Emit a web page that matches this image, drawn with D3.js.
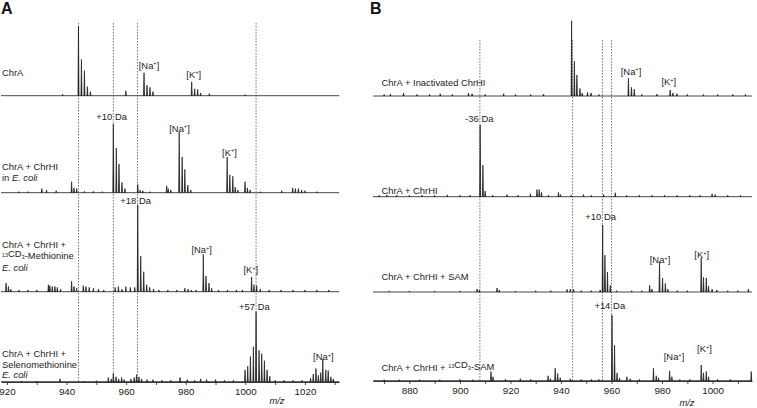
<!DOCTYPE html>
<html><head><meta charset="utf-8">
<script src="https://cdnjs.cloudflare.com/ajax/libs/d3/7.8.5/d3.min.js"></script>
<style>
html,body{margin:0;padding:0;background:#fff;}
svg{display:block;font-family:"Liberation Sans",Arial,sans-serif;}
</style></head>
<body><svg id="c" width="757" height="408"></svg>
<script>
// ---------------- DATA ----------------
const domainA = [918, 1031.5];
const domainB = [865.6, 1015.6];
const ticksA = [920, 930, 940, 950, 960, 970, 980, 990, 1000, 1010, 1020, 1030];
const ticksB = [870, 880, 890, 900, 910, 920, 930, 940, 950, 960, 970, 980, 990, 1000, 1010];
const labelTicks = [880, 900, 920, 940, 960, 980, 1000, 1020];
const dashedA = [944, 955.7, 963.8, 1003.6];
const dashedB = [907.9, 944.6, 956.4, 960];

// peaks: [m/z, relative intensity %]
const peaksA1 = [[938.7,2],[944,100],[945,52],[946,36],[947,13],[948,6],[959.9,7],[966,33],[967,15],[968,12],[969,6],
  [982,20],[983,10],[984,9],[985,4],[987.9,3],[999.9,1.5]];
const peaksA2 = [[924,1.5],[927,1.5],[931.7,6],[933.3,4],[936.5,3],[941.7,16],[942.5,7],[943.4,6],[946,2],[949,2],[952,1.5],
  [955.7,100],[956.7,65],[957.6,42],[958.6,15],[959.6,6],[963.9,12],[964.7,4],[965.6,3],[968,1.5],
  [973.6,10],[974.1,6],[975,4],[977.8,89],[978.8,52],[979.7,34],[980.7,11],[981.7,4],
  [993.9,52],[994.8,26],[995.8,24],[996.6,8],[997.5,4],[999.9,16],[1000.7,7],[1001.6,4],[1005,1.5],
  [1012.2,3],[1015.9,7],[1016.8,6],[1017.8,6],[1018.9,4],[1020,3],[1024,1.5]];
const peaksA3 = [[919.7,10],[920.5,6],[921.3,3],[924,2],[927,2],[930,2],[933.9,8],[934.4,7],[935.2,6],[936.1,6],[936.9,5],[938,3],
  [941.7,12],[942.5,6],[943.4,4],[945.6,7],[946.5,6],[947.6,5],[949,4],[950.7,3],[952.5,2],
  [956.3,5],[957.4,6],[958.6,3],[959.9,6],[961.4,5],[962.9,5],[963.9,100],[964.9,41],[965.9,23],[966.9,8],[967.9,5],
  [969.2,3],[971,2],[974,2],[977,2],[979.7,4],[980.8,3],[981.9,2],[983.5,2],
  [985.9,43],[986.8,18],[987.8,10],[988.7,4],[991,2],[994,2],[997,2],[999,2],
  [1002.1,17],[1002.9,8],[1003.8,7],[1005,3],[1008,2],[1012,2],[1016,2],[1020,2],[1024,2],[1028,2]];
const peaksA4 = [[925,1],[930,1],[937.8,4],[946,1],[950,1.5],[954,6],[955,4],[955.7,12],[956.6,7],[957.5,4],[958.5,6],[959.3,3],
  [961.6,4],[962.7,6],[963.5,10],[964.3,7],[965.2,4],[967,3],[969,3],[972,2],[975,2],[978.1,6],[980.5,3],[983,2],[985,4],
  [987,3],[990,3],[993,2],[996,2],
  [999.9,17],[1000.8,22],[1001.7,36],[1002.7,50],[1003.6,100],[1004.6,45],[1005.5,40],[1006.4,30],[1007.3,17],[1008.2,8],
  [1010,2],[1013,2],[1016,2],[1019,2],
  [1021.9,5],[1022.8,11],[1023.7,19],[1024.5,9],[1025.3,13],[1026,32],[1027,17],[1027.8,16],[1028.7,7],[1029.5,4]];

const peaksB1 = [[870,2],[872.5,2.5],[877.7,4],[883,2],[888,2],[892.2,3],[897,2],[903.4,4],[904.8,3],[910,2],[917.3,3],[922,2],[928,2],[933.1,2.5],
  [944.2,100],[945.3,46],[946.3,28],[947.5,10],[948.4,4],[950.5,5],[951.9,4],[955,2],
  [966.7,23.5],[967.9,11.5],[969,9],[972,2],[978,2.5],[983.2,8],[984.3,4],[985.9,3],[990,2],[996.4,2],[1002,2],[1008,2],[1013,2]];
const peaksB2 = [[868,2],[871.1,2.5],[875,2],[880,2],[885,2],[890,2],[895,2.5],[900,2],[904,2],
  [908,100],[909.1,44],[910,8],[913,2],[918.6,3],[923,2],[927.9,4],[930.5,10],[931.4,10],[932.3,6],[935,2],[939,6],[939.8,3],
  [944,2],[948.9,3],[952,2],[956.9,3],[961.5,5.5],[966,2],[971,2],[976,2],[981,2],[986,2],[991,2],[995,2],[999.8,4],[1001,3],[1006,2],[1011,2]];
const peaksB3 = [[872,1.5],[880,1.5],[890,1.5],[900,1.5],[906.8,4.5],[907.7,3],[914.7,6],[915.6,3],[922,1.5],[930,2],[936,2],
  [942.4,4],[943.7,4.5],[945,4],[948,2],[952,2],[955.5,3],
  [956.5,100],[957.4,55],[958.4,30],[959.5,10],[962,2],[968,2],[972,2],
  [975.1,10],[976,4.5],[979,45],[980.2,21],[981.3,13],[982.3,4.5],[986,2],[990,2],
  [995.5,51],[996.4,22],[997.5,21],[998.4,9],[999.8,4.5],[1001.7,3],[1006,2],[1010,2],[1014.2,4.5]];
const peaksB4 = [[870,1.5],[876,1.5],[884,1.5],[892,1.5],[900,2],[905,1.5],[912.3,14],[913.1,6],[918,2],[923.9,3],[928,2],
  [934.9,7.5],[935.8,3],[937.7,19],[938.7,11],[939.7,4.5],[943.7,3],[948,2],[952,2],[955,2],
  [960.2,100],[961.2,54],[962.2,12],[963.2,4],[966.1,6],[967.4,3],[971,2],
  [976.6,19],[977.7,7.5],[978.6,4.5],[983,15],[983.9,6],[987,2],[991,2],
  [995.5,24],[996.4,12],[997.5,14],[998.4,6],[1002,2],[1007,2],[1015.3,14]];

const rowLabelsA = [["ChrA"], ["ChrA + ChrHI", "in |E. coli"], ["ChrA + ChrHI +", "^13CD_3-Methionine", "|E. coli"], ["ChrA + ChrHI +", "Selenomethionine", "|E. coli"]];
const rowLabelsB = ["ChrA + Inactivated ChrHI", "ChrA + ChrHI", "ChrA + ChrHI + SAM", "ChrA + ChrHI + ^13CD_3-SAM"];
const shiftLabelsA = [["+10", "Da"], ["+18", "Da"], ["+57", "Da"]];
const shiftLabelsB = [["-36", "Da"], ["+10", "Da"], ["+14", "Da"]];

// ---------------- LAYOUT ----------------
const svg = d3.select("#c");
const FS = 9.4;
const col = "#222";
const xA = d3.scaleLinear().domain(domainA).range([1, 339.2]);
const xB = d3.scaleLinear().domain(domainB).range([373, 752]);
const baseA = [95.7, 192.7, 291.7, 381.7], hA = [69.7, 68.7, 86.7, 70];
const baseB = [96, 196.7, 292, 380.7], hB = [75.3, 71.7, 67, 65.7];

function rich(sel, str) {
  // ^ -> superscript, _ -> subscript, | -> italic remainder
  let italic = false;
  const parts = str.split(/(\^\d+|_\d+|\|)/).filter(s => s !== "");
  parts.forEach(p => {
    if (p === "|") { italic = true; return; }
    if (p[0] === "^") {
      sel.append("tspan").attr("font-size", FS * 0.58).attr("dy", -2.8).text(p.slice(1));
      sel.append("tspan").attr("dy", 2.8).text("");
    } else if (p[0] === "_") {
      sel.append("tspan").attr("font-size", FS * 0.6).attr("dy", 2).text(p.slice(1));
      sel.append("tspan").attr("dy", -2).text("");
    } else {
      sel.append("tspan").attr("font-style", italic ? "italic" : null).text(p);
    }
  });
}
function ionLabel(x, y, ion) {
  const t = svg.append("text").attr("x", x).attr("y", y).attr("text-anchor", "middle")
    .attr("font-size", FS).attr("fill", col);
  t.append("tspan").text("[" + ion);
  t.append("tspan").attr("font-size", FS * 0.6).attr("dy", -3.2).text("+");
  t.append("tspan").attr("dy", 3.2).text("]");
}
function shiftLabel(x, y, pair) {
  svg.append("text").attr("x", x - 1.2).attr("y", y).attr("text-anchor", "end").attr("font-size", FS).attr("fill", col).text(pair[0]);
  svg.append("text").attr("x", x + 1.6).attr("y", y).attr("font-size", FS).attr("fill", col).text(pair[1]);
}

function drawPanel(x, dom, bases, heights, rows, dashed, dashTop, axisY, ticks) {
  svg.append("g").selectAll("line").data(dashed).join("line")
    .attr("x1", d => x(d)).attr("x2", d => x(d)).attr("y1", dashTop).attr("y2", axisY)
    .attr("stroke", "#555").attr("stroke-width", 0.8).attr("stroke-dasharray", "1.6,1.4");
  rows.forEach((peaks, i) => {
    const y = d3.scaleLinear().domain([0, 100]).range([bases[i], bases[i] - heights[i]]);
    const g = svg.append("g");
    g.append("line").attr("x1", x(dom[0])).attr("x2", x(dom[1])).attr("y1", y(0)).attr("y2", y(0))
      .attr("stroke", "#333").attr("stroke-width", 0.9);
    g.selectAll("path").data(peaks).join("path")
      .attr("d", d => `M${x(d[0]) - 0.5},${y(0)}L${x(d[0])},${y(d[1])}L${x(d[0]) + 0.5},${y(0)}`)
      .attr("fill", "#1a1a1a").attr("stroke", "#1a1a1a").attr("stroke-width", 0.7);
  });
  const ax = svg.append("g").attr("transform", `translate(0,${axisY})`)
    .call(d3.axisBottom(x).tickValues(ticks).tickSize(3).tickSizeOuter(0)
      .tickFormat(d => labelTicks.includes(d) ? d : ""));
  ax.select(".domain").attr("stroke", "#222").attr("stroke-width", 0.9);
  ax.selectAll(".tick line").attr("stroke", "#222").attr("stroke-width", 0.8);
  ax.selectAll("text").attr("font-size", FS + 0.4).attr("font-family", "Liberation Sans, Arial, sans-serif").attr("fill", col);
}

drawPanel(xA, domainA, baseA, hA, [peaksA1, peaksA2, peaksA3, peaksA4], dashedA, 23, 382, ticksA);
drawPanel(xB, domainB, baseB, hB, [peaksB1, peaksB2, peaksB3, peaksB4], dashedB, 40, 381, ticksB);

// panel letters
svg.append("text").attr("x", 1).attr("y", 14).attr("font-size", 16).attr("font-weight", "bold").attr("fill", "#111").text("A");
svg.append("text").attr("x", 370).attr("y", 14).attr("font-size", 16).attr("font-weight", "bold").attr("fill", "#111").text("B");

// row labels
const labelYA = [[76], [169.5, 181], [247.5, 260, 271], [357, 367.5, 378]];
rowLabelsA.forEach((lines, i) => lines.forEach((s, j) => {
  const t = svg.append("text").attr("x", 2).attr("y", labelYA[i][j]).attr("font-size", FS).attr("fill", col);
  rich(t, s);
}));
const labelYB = [85.5, 193.5, 280, 371];
rowLabelsB.forEach((s, i) => {
  const t = svg.append("text").attr("x", 381.5).attr("y", labelYB[i]).attr("font-size", FS).attr("fill", col);
  rich(t, s);
});

// ion annotations
ionLabel(149, 68.5, "Na"); ionLabel(193.7, 77.5, "K");
ionLabel(179.5, 131.5, "Na"); ionLabel(229.5, 155.5, "K");
ionLabel(201.7, 253, "Na"); ionLabel(250.8, 273, "K");
ionLabel(323.3, 360, "Na");
ionLabel(631, 74.5, "Na"); ionLabel(668.8, 85, "K");
ionLabel(660, 263, "Na"); ionLabel(701.7, 258, "K");
ionLabel(674, 360, "Na"); ionLabel(704.5, 352, "K");

// mass shift annotations
shiftLabel(xA(dashedA[1]), 120, shiftLabelsA[0]);
shiftLabel(xA(dashedA[2]), 204, shiftLabelsA[1]);
shiftLabel(xA(dashedA[3]), 310, shiftLabelsA[2]);
shiftLabel(xB(dashedB[0]), 122, shiftLabelsB[0]);
shiftLabel(xB(dashedB[2]), 220, shiftLabelsB[1]);
shiftLabel(xB(dashedB[3]), 308.5, shiftLabelsB[2]);

// axis titles
svg.append("text").attr("x", 277).attr("y", 403.5).attr("text-anchor", "middle").attr("font-size", FS).attr("font-style", "italic").attr("fill", col).text("m/z");
svg.append("text").attr("x", 687).attr("y", 406).attr("text-anchor", "middle").attr("font-size", FS).attr("font-style", "italic").attr("fill", col).text("m/z");
</script></body></html>
